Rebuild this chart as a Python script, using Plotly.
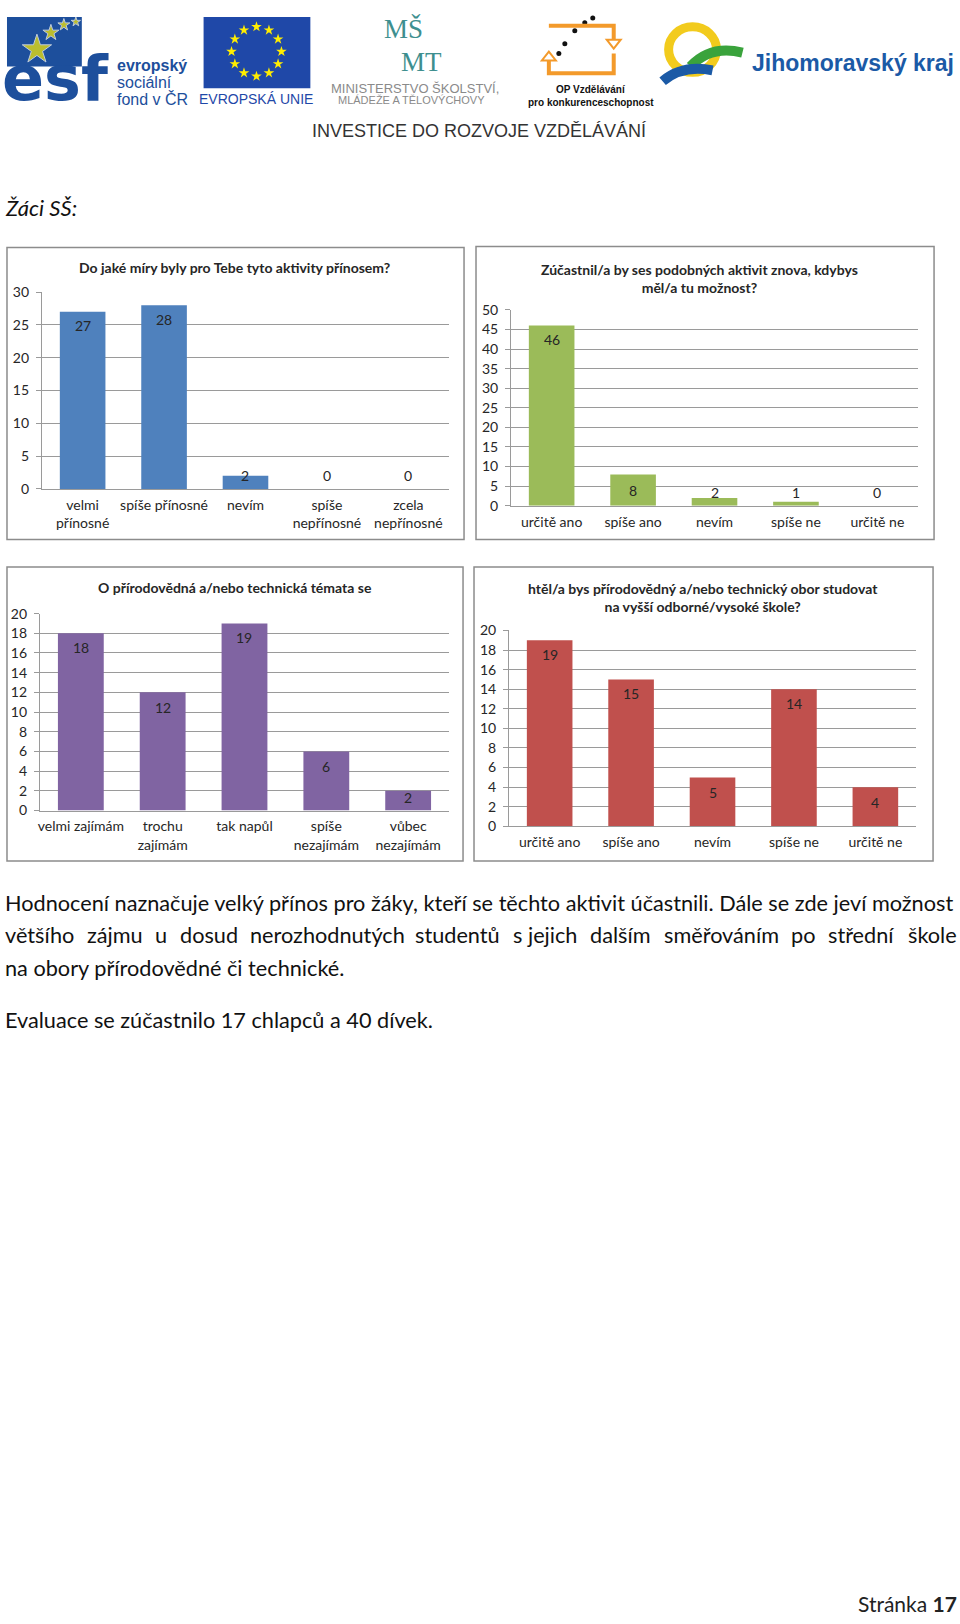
import plotly.graph_objects as go
import math

W, H = 960, 1624

# ---------------- data ----------------
titles = [
    "Do jaké míry byly pro Tebe tyto aktivity přínosem?",
    "Zúčastnil/a by ses podobných aktivit znova, kdybys<br>měl/a tu možnost?",
    "O přírodovědná a/nebo technická témata se",
    "htěl/a bys přírodovědný a/nebo technický obor studovat<br>na vyšší odborné/vysoké škole?",
]
cats1 = ["velmi<br>přínosné", "spíše přínosné", "nevím", "spíše<br>nepřínosné", "zcela<br>nepřínosné"]
vals1 = [27, 28, 2, 0, 0]
cats2 = ["určitě ano", "spíše ano", "nevím", "spíše ne", "určitě ne"]
vals2 = [46, 8, 2, 1, 0]
cats3 = ["velmi zajímám", "trochu<br>zajímám", "tak napůl", "spíše<br>nezajímám", "vůbec<br>nezajímám"]
vals3 = [18, 12, 19, 6, 2]
cats4 = ["určitě ano", "spíše ano", "nevím", "spíše ne", "určitě ne"]
vals4 = [19, 15, 5, 14, 4]
ymax = [30, 50, 20, 20]
ydtick = [5, 5, 2, 2]
colors = ["#4F81BD", "#9BBB59", "#8064A2", "#C0504D"]

# ---------------- layout geometry (pixels) ----------------
boxes = [(5, 241, 463, 536), (475, 240, 934, 536), (5, 564, 462, 861), (473, 564, 933, 861)]
plots = [(40, 286, 448, 485), (510, 304, 918, 502), (38, 611, 448, 810), (508, 628, 916, 826)]
title_pos = [(233, 261), (699, 272), (233, 585), (702, 595)]

FONT = "Lato"
TXT = "#262626"
GRID = "#9a9a9a"
CF = 14


def fx(x):
    return x / W


def fy(y):
    return 1 - y / H


fig = go.Figure()
layout = dict(
    width=W, height=H, margin=dict(l=0, r=0, t=0, b=0),
    paper_bgcolor="white", plot_bgcolor="rgba(0,0,0,0)",
    showlegend=False, bargap=0.44,
    font=dict(family=FONT, color=TXT, size=CF),
)
annotations = []
shapes = []

series = [(cats1, vals1), (cats2, vals2), (cats3, vals3), (cats4, vals4)]
for i, ((cats, vals), col) in enumerate(zip(series, colors)):
    n = i + 1
    xa = "x" if n == 1 else f"x{n}"
    ya = "y" if n == 1 else f"y{n}"
    x0, y0, x1, y1 = plots[i]
    fig.add_trace(go.Bar(x=cats, y=vals, marker=dict(color=col, line=dict(width=0)),
                         xaxis=xa, yaxis=ya, hoverinfo="skip"))
    layout["xaxis" if n == 1 else f"xaxis{n}"] = dict(
        domain=[fx(x0), fx(x1)], anchor=ya, type="category",
        showgrid=False, showline=True, linecolor=GRID, linewidth=1,
        ticks="", tickfont=dict(size=CF, color=TXT, family=FONT),
        ticklabelstandoff=3, fixedrange=True,
    )
    layout["yaxis" if n == 1 else f"yaxis{n}"] = dict(
        domain=[fy(y1), fy(y0)], anchor=xa, range=[0, ymax[i]], dtick=ydtick[i],
        showgrid=True, gridcolor=GRID, gridwidth=1, zeroline=False,
        showline=True, linecolor=GRID, linewidth=1,
        ticks="outside", ticklen=5, tickcolor=GRID,
        tickfont=dict(size=CF, color=TXT, family=FONT),
        ticklabelstandoff=4, fixedrange=True,
    )
    # data labels (inside end, clamped near the axis for short bars)
    ppu = (y1 - y0) / ymax[i]
    for c, v in zip(cats, vals):
        off = max(v * ppu - 16, 13)
        annotations.append(dict(x=c, y=0, xref=xa, yref=ya, yshift=off, text=str(v),
                                showarrow=False, yanchor="middle", xanchor="center",
                                font=dict(size=CF, color=TXT, family=FONT)))
    # chart title
    tx, ty = title_pos[i]
    annotations.append(dict(x=fx(tx), y=fy(ty), xref="paper", yref="paper",
                            text=f"<b>{titles[i]}</b>", showarrow=False,
                            xanchor="center", yanchor="middle",
                            font=dict(size=CF, color=TXT, family=FONT)))
    # chart frame
    bx0, by0, bx1, by1 = boxes[i]
    shapes.append(dict(type="rect", xref="paper", yref="paper",
                       x0=fx(bx0), x1=fx(bx1), y0=fy(by1), y1=fy(by0),
                       line=dict(color="#8c8c8c", width=1.5)))

# ---------------- decoration axis (page pixel coordinates) ----------------
layout["xaxis5"] = dict(domain=[0, 1], range=[0, W], visible=False, anchor="y5", fixedrange=True)
layout["yaxis5"] = dict(domain=[0, 1], range=[H, 0], visible=False, anchor="x5", fixedrange=True)

# ESF logo
shapes.append(dict(type="rect", xref="x5", yref="y5", x0=5, x1=80, y0=8, y1=58,
                   fillcolor="#1d4f9c", line=dict(width=0), layer="below"))
annotations.append(dict(x=54, y=70, xref="x5", yref="y5", text="<b>esf</b>", showarrow=False,
                        xanchor="center", yanchor="middle",
                        font=dict(size=62, color="#1d4f9c", family="DejaVu Sans")))
fig.add_trace(go.Scatter(x=[35, 49, 62, 74], y=[41, 24, 16, 13], mode="markers",
                         marker=dict(symbol="star", size=[22, 12, 9, 7], color="#ffed00"),
                         xaxis="x5", yaxis="y5", hoverinfo="skip"))
for t, yy, b in [("evropský", 57, True), ("sociální", 74, False), ("fond v ČR", 91, False)]:
    annotations.append(dict(x=113, y=yy, xref="x5", yref="y5",
                            text=f"<b>{t}</b>" if b else t, showarrow=False,
                            xanchor="left", yanchor="middle",
                            font=dict(size=16, color="#1d4f9c", family="Liberation Sans")))

# EU flag
shapes.append(dict(type="rect", xref="x5", yref="y5", x0=202, x1=309, y0=8, y1=80,
                   fillcolor="#1f48a8", line=dict(width=0), layer="below"))
sx = [255 + 25 * math.cos(math.radians(a)) for a in range(0, 360, 30)]
sy = [43 + 25 * math.sin(math.radians(a)) for a in range(0, 360, 30)]
fig.add_trace(go.Scatter(x=sx, y=sy, mode="markers",
                         marker=dict(symbol="star", size=8, color="#ffed00"),
                         xaxis="x5", yaxis="y5", hoverinfo="skip"))
annotations.append(dict(x=255, y=91, xref="x5", yref="y5", text="EVROPSKÁ UNIE", showarrow=False,
                        xanchor="center", yanchor="middle",
                        font=dict(size=14, color="#1f48a8", family="Liberation Sans")))

# MSMT
annotations.append(dict(x=402, y=20, xref="x5", yref="y5", text="MŠ", showarrow=False,
                        xanchor="center", yanchor="middle",
                        font=dict(size=27, color="#3e8f8f", family="Liberation Serif")))
annotations.append(dict(x=420, y=54, xref="x5", yref="y5", text="MT", showarrow=False,
                        xanchor="center", yanchor="middle",
                        font=dict(size=27, color="#3e8f8f", family="Liberation Serif")))
annotations.append(dict(x=414, y=80, xref="x5", yref="y5", text="MINISTERSTVO ŠKOLSTVÍ,", showarrow=False,
                        xanchor="center", yanchor="middle",
                        font=dict(size=13, color="#8a8a8a", family="Liberation Sans")))
annotations.append(dict(x=410, y=92, xref="x5", yref="y5", text="MLÁDEŽE A TĚLOVÝCHOVY", showarrow=False,
                        xanchor="center", yanchor="middle",
                        font=dict(size=11, color="#8a8a8a", family="Liberation Sans")))

# OP logo
OR = "#f39a2b"
for p in ["M 548 17 L 613 17 L 613 33", "M 613 45 L 613 65 L 548 65 L 548 50"]:
    shapes.append(dict(type="path", xref="x5", yref="y5", path=p, line=dict(color=OR, width=4)))
shapes.append(dict(type="path", xref="x5", yref="y5", path="M 606 31 L 620 31 L 613 40 Z",
                   line=dict(color=OR, width=2), fillcolor="white"))
shapes.append(dict(type="path", xref="x5", yref="y5", path="M 541 52 L 555 52 L 548 43 Z",
                   line=dict(color=OR, width=2), fillcolor="white"))
fig.add_trace(go.Scatter(x=[558, 564, 574, 584, 592], y=[45, 35, 22, 14, 9], mode="markers",
                         marker=dict(size=5, color="#111"),
                         xaxis="x5", yaxis="y5", hoverinfo="skip"))
annotations.append(dict(x=590, y=81, xref="x5", yref="y5", text="<b>OP Vzdělávání</b>", showarrow=False,
                        xanchor="center", yanchor="middle",
                        font=dict(size=10, color="#111", family="Liberation Sans")))
annotations.append(dict(x=590, y=94, xref="x5", yref="y5", text="<b>pro konkurenceschopnost</b>",
                        showarrow=False, xanchor="center", yanchor="middle",
                        font=dict(size=10, color="#111", family="Liberation Sans")))

# Jihomoravsky kraj
shapes.append(dict(type="circle", xref="x5", yref="y5", x0=668, x1=716, y0=18, y1=64,
                   line=dict(color="#f2cb1d", width=9)))
shapes.append(dict(type="path", xref="x5", yref="y5", path="M 690 58 Q 710 36 742 44",
                   line=dict(color="#3aa33c", width=10)))
shapes.append(dict(type="path", xref="x5", yref="y5", path="M 662 73 Q 682 56 712 62",
                   line=dict(color="#1b5aa6", width=10)))
annotations.append(dict(x=750, y=55, xref="x5", yref="y5", text="<b>Jihomoravský kraj</b>",
                        showarrow=False, xanchor="left", yanchor="middle",
                        font=dict(size=23, color="#1b5aa6", family="Liberation Sans")))
annotations.append(dict(x=478, y=123, xref="x5", yref="y5", text="INVESTICE DO ROZVOJE VZDĚLÁVÁNÍ",
                        showarrow=False, xanchor="center", yanchor="middle",
                        font=dict(size=18, color="#333", family="Liberation Sans")))

# heading
annotations.append(dict(x=1, y=201, xref="x5", yref="y5", text="<i>Žáci SŠ:</i>", showarrow=False,
                        xanchor="left", yanchor="middle",
                        font=dict(size=22, color="#111", family=FONT)))

# body text
BODY = dict(size=21.7, color="#111", family=FONT)
annotations.append(dict(x=1, y=903, xref="x5", yref="y5",
                        text="Hodnocení naznačuje velký přínos pro žáky, kteří se těchto aktivit účastnili. Dále se zde jeví možnost",
                        showarrow=False, xanchor="left", yanchor="middle", font=BODY))
words2 = ["většího", "zájmu", "u", "dosud", "nerozhodnutých", "studentů", "s jejich", "dalším",
          "směřováním", "po", "střední"]
wx2 = [1, 83, 151, 176, 247, 412, 510, 587, 661, 789, 826]
for w_, x_ in zip(words2, wx2):
    annotations.append(dict(x=x_, y=936, xref="x5", yref="y5", text=w_, showarrow=False,
                            xanchor="left", yanchor="middle", font=BODY))
annotations.append(dict(x=959, y=936, xref="x5", yref="y5", text="škole", showarrow=False,
                        xanchor="right", yanchor="middle", font=BODY))
annotations.append(dict(x=1, y=969, xref="x5", yref="y5", text="na obory přírodovědné či technické.",
                        showarrow=False, xanchor="left", yanchor="middle", font=BODY))
annotations.append(dict(x=1, y=1022, xref="x5", yref="y5", text="Evaluace se zúčastnilo 17 chlapců a 40 dívek.",
                        showarrow=False, xanchor="left", yanchor="middle", font=BODY))
annotations.append(dict(x=959, y=1611, xref="x5", yref="y5", text="Stránka <b>17</b>",
                        showarrow=False, xanchor="right", yanchor="middle",
                        font=dict(size=21, color="#222", family=FONT)))

layout["annotations"] = annotations
layout["shapes"] = shapes
fig.update_layout(**layout)
post = ("var d=document.getElementById('{plot_id}');"
        "d.style.position='fixed';d.style.top='0px';d.style.left='0px';"
        "document.body.style.margin='0px';document.body.style.overflow='hidden';"
        "document.documentElement.style.overflow='hidden';")
fig.write_html("out.html", config={"displayModeBar": False}, post_script=post)
